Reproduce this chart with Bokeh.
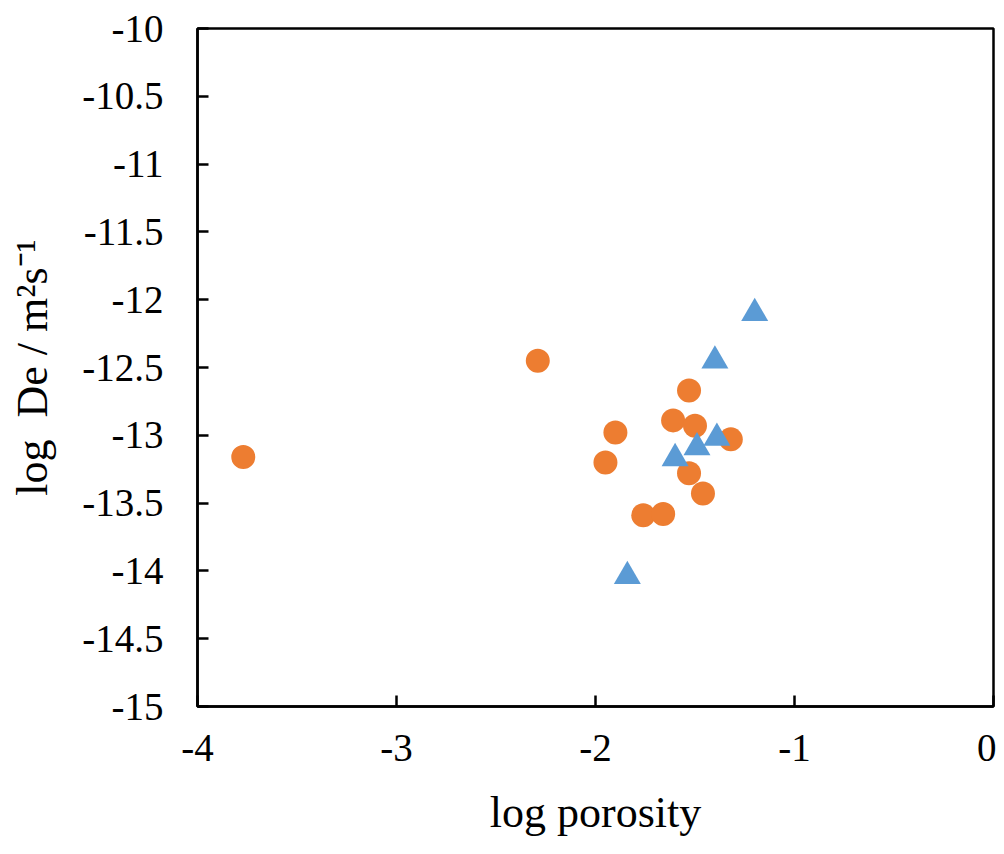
from bokeh.plotting import figure
from bokeh.models import FixedTicker, NumeralTickFormatter, Range1d
from bokeh.embed import file_html
from bokeh.resources import INLINE

# ---- data ----
circle_x = [-3.77, -2.29, -1.90, -1.95, -1.53, -1.61, -1.50, -1.32, -1.53, -1.46, -1.76, -1.66]
circle_y = [-13.16, -12.45, -12.98, -13.20, -12.67, -12.89, -12.93, -13.03, -13.28, -13.43, -13.59, -13.58]
tri_x = [-1.20, -1.40, -1.39, -1.49, -1.60, -1.84]
tri_y = [-12.10, -12.45, -13.02, -13.09, -13.17, -14.04]

x_ticks = [-4, -3, -2, -1, 0]
y_ticks = [-15, -14.5, -14, -13.5, -13, -12.5, -12, -11.5, -11, -10.5, -10]
x_label = "log porosity"
y_label = "log\u00a0 De / m\u00b2s\u207b\u00b9"

FONT = "Liberation Serif"

p = figure(frame_width=796, frame_height=678,
           min_border_left=197, min_border_top=28, min_border_right=3, min_border_bottom=148,
           x_range=Range1d(-4, 0), y_range=Range1d(-15, -10),
           output_backend="svg", toolbar_location=None)

p.background_fill_color = "white"
p.border_fill_color = "white"
p.outline_line_color = "black"
p.outline_line_width = 2.5
p.xgrid.visible = False
p.ygrid.visible = False

p.scatter(circle_x, circle_y, marker="circle", size=24,
          fill_color="#ED7D31", line_color="#ED7D31", line_width=0)
p.scatter(tri_x, tri_y, marker="triangle", size=27,
          fill_color="#5B9BD5", line_color="#5B9BD5", line_width=0)

for ax in (p.xaxis[0], p.yaxis[0]):
    ax.axis_line_color = "black"
    ax.axis_line_width = 2.5
    ax.major_tick_line_color = "black"
    ax.major_tick_line_width = 2.5
    ax.major_tick_in = 11
    ax.major_tick_out = 0
    ax.minor_tick_line_color = None
    ax.major_label_text_font = FONT
    ax.major_label_text_font_size = "39px"
    ax.major_label_text_color = "black"
    ax.axis_label_text_font = FONT
    ax.axis_label_text_font_size = "44px"
    ax.axis_label_text_font_style = "normal"
    ax.axis_label_text_color = "black"

p.xaxis.ticker = FixedTicker(ticks=x_ticks)
p.yaxis.ticker = FixedTicker(ticks=y_ticks)
p.xaxis.formatter = NumeralTickFormatter(format="0")
p.yaxis.formatter = NumeralTickFormatter(format="0.[0]")
p.xaxis.major_label_standoff = 28
p.yaxis.major_label_standoff = 34

p.yaxis.axis_label = y_label
p.yaxis.axis_label_standoff = 22
p.xaxis.axis_label = x_label
p.xaxis.axis_label_standoff = 24

open("out.html", "w").write(file_html(p, INLINE))
